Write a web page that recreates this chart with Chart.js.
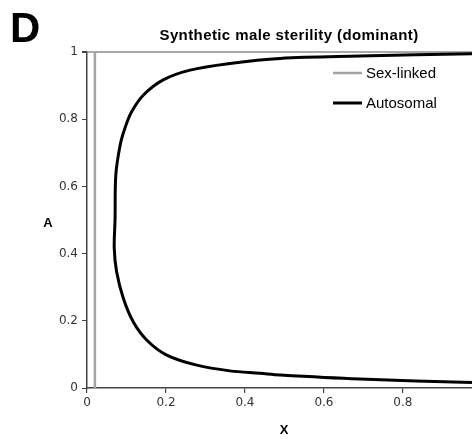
<!DOCTYPE html>
<html>
<head>
<meta charset="utf-8">
<script src="https://cdn.jsdelivr.net/npm/chart.js@4.4.0/dist/chart.umd.min.js"></script>
<style>
  html, body { margin: 0; padding: 0; background: #fff; }
  #wrap { width: 472px; height: 441px; position: relative; }
</style>
</head>
<body>
<div id="wrap"><canvas id="chart" width="472" height="441"></canvas></div>
<script>
// ===== DATA =====
const panelLetter = "D";
const chartTitle = "Synthetic male sterility (dominant)";
const seriesNames = ["Sex-linked", "Autosomal"];

const sexLinkedX = [0.02, 0.02];
const sexLinkedA = [0, 1];

// autosomal boundary, traced from top right round to bottom right
const autoX = [0.975, 0.69, 0.489, 0.362, 0.261, 0.193, 0.143, 0.113, 0.096, 0.084, 0.073, 0.071, 0.069, 0.075, 0.092, 0.117, 0.151, 0.202, 0.278, 0.362, 0.438, 0.489, 0.691, 0.975];
const autoA = [0.995, 0.988, 0.981, 0.966, 0.946, 0.917, 0.872, 0.822, 0.773, 0.723, 0.634, 0.5, 0.416, 0.346, 0.267, 0.197, 0.143, 0.098, 0.068, 0.051, 0.044, 0.039, 0.027, 0.016];

const xTicks = [0, 0.2, 0.4, 0.6, 0.8];
const yTicks = [0, 0.2, 0.4, 0.6, 0.8, 1];

const toPoints = (xs, ys) => xs.map((x, i) => ({ x: x, y: ys[i] }));

// ===== LABELS / LEGEND PLUGIN =====
const annotate = {
  id: "annotate",
  afterDraw(chart) {
    const c = chart.ctx;
    c.save();
    c.fillStyle = "#000";
    c.textBaseline = "alphabetic";

    c.font = "bold 42px 'Liberation Sans', Arial, sans-serif";
    c.textAlign = "left";
    c.fillText(panelLetter, 10, 42);

    c.font = "bold 15px 'Liberation Sans', Arial, sans-serif";
    c.textAlign = "center";
    c.letterSpacing = "0.4px";
    c.fillText(chartTitle, 289, 40);
    c.letterSpacing = "0px";

    c.font = "bold 13px 'Liberation Sans', Arial, sans-serif";
    c.fillText("A", 48, 227);
    c.fillText("X", 284, 434);

    // legend inside plot
    c.font = "15px 'Liberation Sans', Arial, sans-serif";
    c.textAlign = "left";
    c.textBaseline = "middle";
    chart.data.datasets.forEach((ds, i) => {
      const y = 73 + i * 30;
      c.strokeStyle = ds.borderColor;
      c.lineWidth = ds.borderWidth;
      c.beginPath();
      c.moveTo(333, y);
      c.lineTo(362, y);
      c.stroke();
      c.fillStyle = "#000";
      c.fillText(ds.label, 366, y + 1);
    });
    c.restore();
  }
};

const tickFont = { family: "'DejaVu Sans', Verdana, sans-serif", size: 12 };

new Chart(document.getElementById("chart"), {
  type: "scatter",
  data: {
    datasets: [
      {
        label: seriesNames[0],
        data: toPoints(sexLinkedX, sexLinkedA),
        showLine: true,
        borderColor: "#a3a3a3",
        borderWidth: 2.5,
        pointRadius: 0,
        tension: 0
      },
      {
        label: seriesNames[1],
        data: toPoints(autoX, autoA),
        showLine: true,
        borderColor: "#000",
        borderWidth: 3,
        pointRadius: 0,
        tension: 0.35
      }
    ]
  },
  options: {
    responsive: false,
    animation: false,
    layout: { padding: { top: 52, right: 0, bottom: 0, left: 0 } },
    plugins: { legend: { display: false }, title: { display: false }, tooltip: { enabled: false } },
    scales: {
      x: {
        type: "linear",
        min: 0,
        max: 0.975,
        afterBuildTicks: (s) => { s.ticks = xTicks.map(v => ({ value: v })); },
        afterFit: (s) => { s.height = 53; },
        ticks: { font: tickFont, color: "#333", padding: 3, maxRotation: 0, callback: (v) => String(v) },
        grid: { drawOnChartArea: false, tickLength: 5, tickColor: "#444", lineWidth: 1.2 },
        border: { color: "#444", width: 1.5 }
      },
      y: {
        type: "linear",
        min: 0,
        max: 1,
        afterBuildTicks: (s) => { s.ticks = yTicks.map(v => ({ value: v })); },
        afterFit: (s) => { s.width = 87; },
        ticks: { font: tickFont, color: "#333", padding: 4, callback: (v) => String(v) },
        grid: {
          drawOnChartArea: true,
          color: (ctx) => (ctx.tick && ctx.tick.value === 1 ? "#a8a8a8" : "rgba(0,0,0,0)"),
          lineWidth: (ctx) => (ctx.tick && ctx.tick.value === 1 ? 2 : 1),
          tickLength: 5,
          tickColor: "#444"
        },
        border: { color: "#444", width: 1.5 }
      }
    }
  },
  plugins: [annotate]
});
</script>
</body>
</html>
